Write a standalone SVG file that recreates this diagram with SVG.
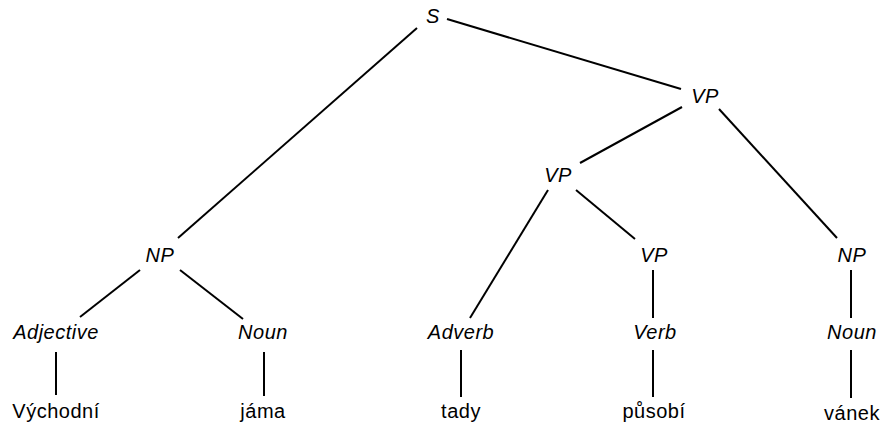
<svg xmlns="http://www.w3.org/2000/svg" width="881" height="428" viewBox="0 0 881 428">
<style>
text{font-family:"Liberation Sans",Arial,sans-serif;font-size:20px;letter-spacing:0.5px;fill:#000;text-anchor:middle}
.nt{font-style:italic}
#edges line{stroke:#000;stroke-width:2}
</style>
<rect width="881" height="428" fill="#fff"/>
<g id="edges">
<line x1="417" y1="28" x2="178" y2="238"/>
<line x1="447" y1="19" x2="681" y2="89"/>
<line x1="682" y1="107" x2="580" y2="163"/>
<line x1="719" y1="109" x2="837" y2="238"/>
<line x1="548" y1="190" x2="470" y2="318"/>
<line x1="576" y1="190" x2="635" y2="239"/>
<line x1="653" y1="270" x2="653" y2="318"/>
<line x1="653" y1="350" x2="653" y2="397"/>
<line x1="461" y1="350" x2="461" y2="397"/>
<line x1="140" y1="270" x2="80" y2="317"/>
<line x1="180" y1="270" x2="243" y2="319"/>
<line x1="56" y1="352" x2="56" y2="395"/>
<line x1="264" y1="352" x2="264" y2="396"/>
<line x1="851" y1="270" x2="851" y2="318"/>
<line x1="851" y1="350" x2="851" y2="398"/>
</g>
<g id="S"><text class="nt" x="433" y="23">S</text></g>
<g id="VP1"><text class="nt" x="705" y="103">VP</text></g>
<g id="VP2"><text class="nt" x="558" y="182">VP</text></g>
<g id="NP1"><text class="nt" x="160" y="262">NP</text></g>
<g id="VP3"><text class="nt" x="654" y="262">VP</text></g>
<g id="NP2"><text class="nt" x="852" y="262">NP</text></g>
<g id="Adjective"><text class="nt" x="56" y="339">Adjective</text></g>
<g id="Noun1"><text class="nt" x="263" y="339">Noun</text></g>
<g id="Adverb"><text class="nt" x="461" y="339">Adverb</text></g>
<g id="Verb"><text class="nt" x="655" y="339">Verb</text></g>
<g id="Noun2"><text class="nt" x="852" y="339">Noun</text></g>
<g id="w1"><text x="56" y="418">Východní</text></g>
<g id="w2"><text x="263" y="418">jáma</text></g>
<g id="w3"><text x="461" y="418">tady</text></g>
<g id="w4"><text x="654" y="418">působí</text></g>
<g id="w5"><text x="852" y="420">vánek</text></g>
</svg>
